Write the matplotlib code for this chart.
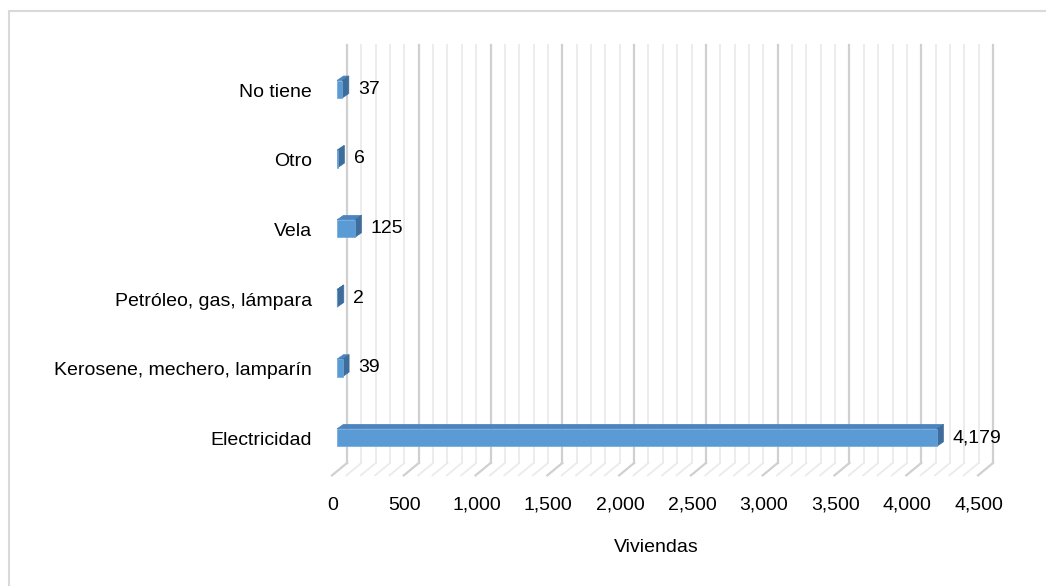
import matplotlib
matplotlib.use("Agg")
import matplotlib.pyplot as plt
import matplotlib.transforms as mtransforms
from matplotlib.patches import Polygon, Rectangle
from matplotlib.lines import Line2D
import numpy as np

# ---- data ----
categories = ["Electricidad", "Kerosene, mechero, lamparín", "Petróleo, gas, lámpara",
              "Vela", "Otro", "No tiene"]
values = [4179, 39, 2, 125, 6, 37]
xticks = [0, 500, 1000, 1500, 2000, 2500, 3000, 3500, 4000, 4500]
xtick_labels = ["0", "500", "1,000", "1,500", "2,000", "2,500", "3,000", "3,500", "4,000", "4,500"]
xlabel = "Viviendas"

# ---- style ----
FONT = ["Liberation Sans", "DejaVu Sans"]
plt.rcParams["font.family"] = FONT
FS = 14
FRONT = "#5B9BD5"
TOP = "#4C84BE"
SIDE = "#3E6D9C"
MAJOR = "#D0D0D0"
MINOR = "#EBEBEB"

W, H = 1046, 586
fig = plt.figure(figsize=(W / 100, H / 100), dpi=100)
ax = fig.add_axes([337 / W, (H - 472.4) / H, 646 / W, 418 / H])
ax.set_xlim(0, 4500)
ax.set_ylim(-0.5, len(categories) - 0.5)
ax.axis("off")

# chart border
fig.add_artist(Rectangle((8.5 / W, -0.1), 1.2, 1.1 - 10.5 / H, transform=fig.transFigure,
                         fill=False, edgecolor="#D9D9D9", lw=1.5))

def shifted(pts, dx, dy):
    disp = ax.transData.transform(np.asarray(pts, dtype=float))
    disp = disp + np.array([dx, dy])
    return ax.transData.inverted().transform(disp)

WALL = (10, 9.4)      # back wall offset in px
FLOOR = (-5, -3)      # front floor edge offset in px
BAR_D = (6.5, 4.5)    # bar depth in px

ymin, ymax = ax.get_ylim()
# back wall gridlines + floor lines
for v in range(0, 4501, 100):
    major = v % 500 == 0
    col = MAJOR if major else MINOR
    lw = 1.6 if major else 1.3
    p = shifted([[v, ymin], [v, ymax]], *WALL)
    ax.add_line(Line2D(p[:, 0], p[:, 1], color=col, lw=lw, zorder=1, clip_on=False))
    b = shifted([[v, ymin]], *WALL)[0]
    f = shifted([[v, ymin]], *FLOOR)[0]
    ax.add_line(Line2D([b[0], f[0]], [b[1], f[1]], color=col, lw=lw, zorder=1, clip_on=False))

# bars
bh = 0.25
for i, v in enumerate(values):
    y0, y1 = i - bh / 2, i + bh / 2
    top_front = [[0, y1], [v, y1]]
    tb = shifted(top_front, *BAR_D)
    ax.add_patch(Polygon([top_front[0], top_front[1], tb[1], tb[0]], closed=True,
                         facecolor=TOP, edgecolor=TOP, lw=0.5, zorder=3, clip_on=False))
    side_front = [[v, y0], [v, y1]]
    sb = shifted(side_front, *BAR_D)
    ax.add_patch(Polygon([side_front[0], side_front[1], sb[1], sb[0]], closed=True,
                         facecolor=SIDE, edgecolor=SIDE, lw=0.5, zorder=3, clip_on=False))
    ax.add_patch(Rectangle((0, y0), v, bh, facecolor=FRONT, edgecolor="#6FA8DC",
                           lw=0.5, zorder=4, clip_on=False))
    lab_tr = mtransforms.offset_copy(ax.transData, fig=fig, x=16, y=0, units="dots")
    ax.text(v, i, f"{v:,}", transform=lab_tr, ha="left", va="center",
            fontsize=FS, color="#000000", zorder=5)

# category labels
cat_tr = mtransforms.offset_copy(ax.transData, fig=fig, x=-25, y=-3, units="dots")
for i, c in enumerate(categories):
    ax.text(0, i, c, transform=cat_tr, ha="right", va="center", fontsize=FS, color="#000000")

# x tick labels
blend = mtransforms.blended_transform_factory(ax.transData, ax.transAxes)
tick_tr = mtransforms.offset_copy(blend, fig=fig, x=-4, y=-32.6, units="dots")
for t, lab in zip(xticks, xtick_labels):
    ax.text(t, 0, lab, transform=tick_tr, ha="center", va="center", fontsize=FS, color="#000000")

xl_tr = mtransforms.offset_copy(ax.transAxes, fig=fig, x=-4, y=-75.6, units="dots")
ax.text(0.5, 0, xlabel, transform=xl_tr, ha="center", va="center", fontsize=FS, color="#000000")

fig.savefig("out.png", dpi=100, facecolor="white")
